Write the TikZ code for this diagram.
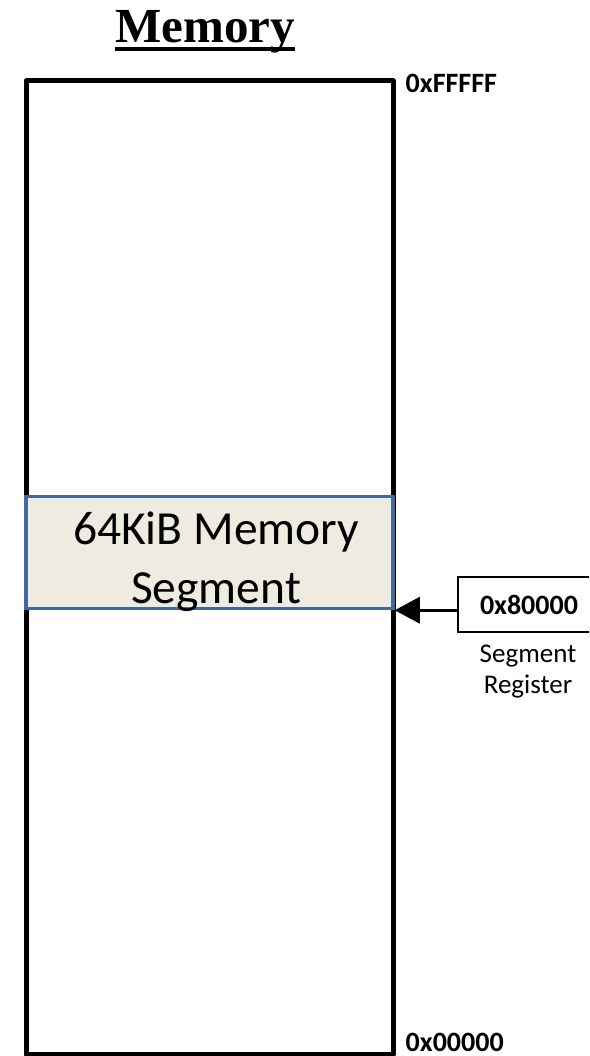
\documentclass[tikz,border=0pt]{standalone}
\usepackage{fontspec}
\setmainfont{Carlito}
\newfontfamily\titlefont{Liberation Serif}
\usetikzlibrary{arrows.meta}
\definecolor{segfill}{RGB}{238,236,225}
\definecolor{segline}{RGB}{65,105,155}
\begin{document}
\begin{tikzpicture}[x=1pt,y=-1pt,
  membox/.style={draw=black, line width=5pt, line join=round, inner sep=0pt},
  segbox/.style={draw=segline, fill=segfill, line width=3.5pt, inner sep=0pt},
  regbox/.style={draw=black, line width=1.5pt, inner sep=0pt,
    font=\bfseries\fontsize{28}{34}\selectfont},
  addr/.style={inner sep=0pt, font=\bfseries\fontsize{28}{34}\selectfont},
  bigtext/.style={inner sep=0pt, align=center, font=\fontsize{47.5}{59}\selectfont},
  captext/.style={inner sep=0pt, align=center, font=\fontsize{27}{31}\selectfont},
  pointer/.style={line width=3.5pt, -{Triangle[length=25pt,width=26pt]}}
]
\useasboundingbox (0,0) rectangle (589,1056);
\clip (0,0) rectangle (589,1056);
% title
\node[inner sep=0pt, anchor=base, font=\titlefont\bfseries\fontsize{49}{58}\selectfont] (title) at (205,43) {Memory};
\draw[line width=4pt] ([yshift=-6pt]title.base west) -- ([yshift=-6pt]title.base east);
% memory column
\node[membox, minimum width=367pt, minimum height=973.5pt] (mem) at (209.5,567.75) {};
% segment
\node[segbox, minimum width=367pt, minimum height=112pt] (seg) at (209.5,552.5) {};
\node[bigtext] (segtxt) at (216,562) {64KiB Memory\\Segment};
% addresses
\node[addr, anchor=base west] (top) at (405.5,93) {0xFFFFF};
\node[addr, anchor=base west] (bot) at (405.5,1051.5) {0x00000};
% register
\node[regbox, minimum width=142pt, minimum height=55pt] (reg) at (529,604.5) {0x80000};
\node[captext] (regcap) at (528,671.5) {Segment\\Register};
\draw[pointer] (reg.west |- seg.south east) -- (seg.south east);
\end{tikzpicture}
\end{document}
